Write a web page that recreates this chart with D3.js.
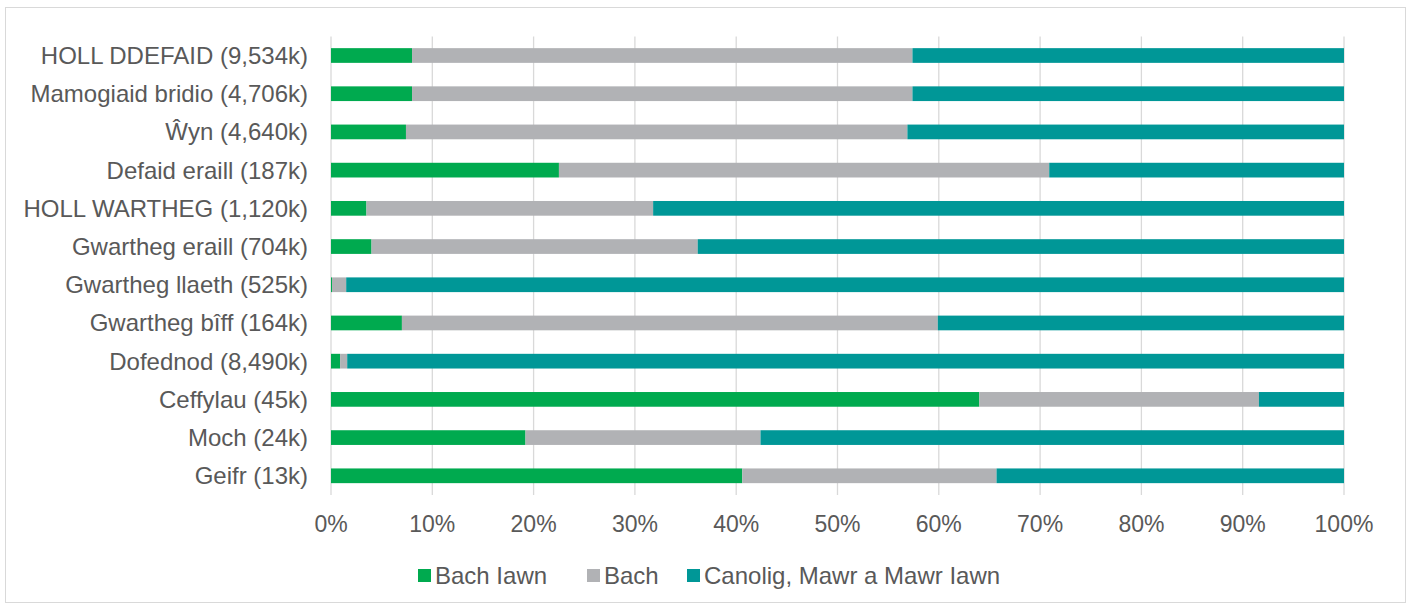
<!DOCTYPE html>
<html>
<head>
<meta charset="utf-8">
<script src="https://cdn.jsdelivr.net/npm/d3@7"></script>
<style>
  body { margin: 0; background: #fff; }
  text { font-family: "Liberation Sans", Arial, sans-serif; fill: #595959; }
</style>
</head>
<body>
<div id="chart"></div>
<script>
// categories (top to bottom)
const categories = [
    "HOLL DDEFAID (9,534k)", "Mamogiaid bridio (4,706k)", "Ŵyn (4,640k)",
    "Defaid eraill (187k)", "HOLL WARTHEG (1,120k)", "Gwartheg eraill (704k)",
    "Gwartheg llaeth (525k)", "Gwartheg bîff (164k)", "Dofednod (8,490k)",
    "Ceffylau (45k)", "Moch (24k)", "Geifr (13k)"
];
// series values, percent of holdings
const bachIawn = [8.0, 8.0, 7.4, 22.5, 3.5, 4.0, 0.1, 7.0, 0.9, 64.0, 19.2, 40.6];
const bach     = [49.4, 49.4, 49.5, 48.4, 28.3, 32.2, 1.4, 52.9, 0.7, 27.6, 23.2, 25.1];
const canolig  = [42.6, 42.6, 43.1, 29.1, 68.2, 63.8, 98.5, 40.1, 98.4, 8.4, 57.6, 34.3];
const seriesNames = ["Bach Iawn", "Bach", "Canolig, Mawr a Mawr Iawn"];
const tickValues = [0, 10, 20, 30, 40, 50, 60, 70, 80, 90, 100];

const colors = ["#00AA4F", "#B1B2B5", "#009797"];

const W = 1411, H = 609;
const svg = d3.select("#chart").append("svg")
    .attr("width", W).attr("height", H);

// outer frame
svg.append("rect")
    .attr("x", 5.5).attr("y", 7.5)
    .attr("width", W - 11).attr("height", H - 14)
    .attr("fill", "none").attr("stroke", "#d9d9d9").attr("stroke-width", 1);

const x = d3.scaleLinear().domain([0, 100]).range([331, 1344]);
const y = d3.scaleBand().domain(categories).range([36.4, 494.9])
    .paddingInner(0.615).paddingOuter(0.3075);

// gridlines
svg.append("g").selectAll("line")
    .data(tickValues)
    .join("line")
    .attr("x1", d => x(d)).attr("x2", d => x(d))
    .attr("y1", 36.4).attr("y2", 494.9)
    .attr("stroke", "#d9d9d9").attr("stroke-width", 1.3);

// stacked bars
const rows = categories.map((c, i) => ({cat: c, a: bachIawn[i], b: bach[i], c: canolig[i]}));
const stack = d3.stack().keys(["a", "b", "c"]);
const layers = stack(rows);

svg.append("g").selectAll("g")
    .data(layers)
    .join("g")
    .attr("fill", (d, i) => colors[i])
    .selectAll("rect")
    .data(d => d)
    .join("rect")
    .attr("x", d => x(d[0]))
    .attr("width", d => x(d[1]) - x(d[0]))
    .attr("y", d => y(d.data.cat))
    .attr("height", y.bandwidth());

// x axis labels
svg.append("g").selectAll("text")
    .data(tickValues)
    .join("text")
    .attr("x", d => x(d))
    .attr("y", 532)
    .attr("text-anchor", "middle")
    .attr("font-size", 23)
    .text(d => d + "%");

// category labels
svg.append("g").selectAll("text")
    .data(categories)
    .join("text")
    .attr("x", 308)
    .attr("y", d => y(d) + y.bandwidth() / 2)
    .attr("dy", "0.35em")
    .attr("text-anchor", "end")
    .attr("font-size", 24)
    .text(d => d);

// legend
const legendX = [418, 587, 687];
const legend = svg.append("g").selectAll("g")
    .data(seriesNames)
    .join("g")
    .attr("transform", (d, i) => `translate(${legendX[i]},569)`);
legend.append("rect")
    .attr("width", 13).attr("height", 13)
    .attr("fill", (d, i) => colors[i]);
legend.append("text")
    .attr("x", 17).attr("y", 6.5)
    .attr("dy", "0.35em")
    .attr("font-size", 24)
    .text(d => d);
</script>
</body>
</html>
